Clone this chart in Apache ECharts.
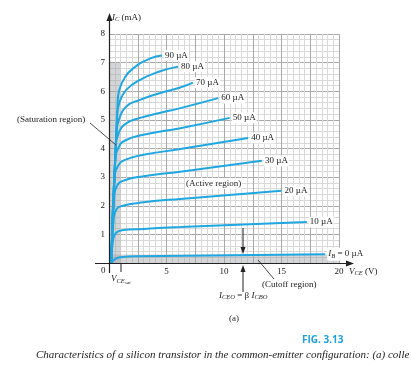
<!DOCTYPE html>
<html><head><meta charset="utf-8">
<script src="https://cdn.jsdelivr.net/npm/echarts@6/dist/echarts.min.js"></script>
<style>html,body{margin:0;padding:0;background:#fff}#c{width:411px;height:388px}</style>
</head><body><div id="c"></div>
<script>
// ---- data ----
const xTickLabels = [5, 10, 15, 20];
const yTickLabels = [1, 2, 3, 4, 5, 6, 7, 8];
const curveNames = ['IB = 0 µA', '10 µA', '20 µA', '30 µA', '40 µA', '50 µA', '60 µA', '70 µA', '80 µA', '90 µA'];
const ib0  = [[0.25,0],[0.5,0.13],[1,0.2],[2.5,0.24],[18.8,0.31]];
const ib10 = [[0.2,0],[0.35,0.8],[0.6,1.05],[1.2,1.15],[3,1.19],[6.2,1.26],[17.2,1.43]];
const ib20 = [[0.2,0],[0.4,1.5],[0.65,1.88],[1.2,2.0],[3,2.12],[6.2,2.24],[15,2.52]];
const ib30 = [[0.2,0],[0.45,2.3],[0.7,2.7],[1.3,2.88],[3,3.03],[6.2,3.19],[13.3,3.57]];
const ib40 = [[0.2,0],[0.5,3.0],[0.8,3.4],[1.4,3.6],[3,3.78],[6.2,3.98],[12.1,4.37]];
const ib50 = [[0.2,0],[0.55,3.6],[0.85,4.05],[1.4,4.28],[3,4.48],[6.2,4.71],[10.5,5.07]];
const ib60 = [[0.2,0],[0.6,4.1],[0.85,4.55],[1.5,4.88],[2.7,5.07],[4.4,5.24],[6.2,5.41],[9.5,5.76]];
const ib70 = [[0.2,0],[0.65,4.6],[0.9,5.05],[1.5,5.47],[2.7,5.7],[4.4,5.93],[6.2,6.13],[7.3,6.3]];
const ib80 = [[0.2,0],[0.7,5.1],[0.9,5.6],[1.5,6.05],[2.7,6.4],[4.4,6.69],[6.0,6.86]];
const ib90 = [[0.2,0],[0.75,5.6],[0.9,6.05],[1.4,6.5],[2.1,6.8],[3.6,7.15],[4.6,7.25]];
const curves = [ib0, ib10, ib20, ib30, ib40, ib50, ib60, ib70, ib80, ib90];
const saturationBox = [[0, 0], [1.0, 7]];
const cutoffBand = [[0, 0], [20, 0.3]];

// ---- chart ----
const chart = echarts.init(document.getElementById('c'), null, {renderer: 'canvas'});
const BLUE = '#1ea7e1';
const SERIF = 'Liberation Serif';

const series = [{
  type: 'line', data: [], z: 1, silent: true,
  markArea: {
    silent: true,
    itemStyle: {color: 'rgba(160,162,166,0.45)'},
    data: [
      [{coord: saturationBox[0]}, {coord: saturationBox[1]}],
      [{coord: cutoffBand[0]}, {coord: cutoffBand[1]}]
    ]
  }
}];
curves.forEach((d, i) => {
  series.push({
    type: 'line', data: d, z: 3, showSymbol: false, smooth: 0.5,
    lineStyle: {color: BLUE, width: 2}, itemStyle: {color: BLUE},
    endLabel: {
      show: true, distance: 2,
      formatter: i === 0 ? '{i|I}{s|B}{n| = 0 µA}' : curveNames[i],
      fontFamily: SERIF, fontSize: 9, color: '#222', backgroundColor: '#fff', padding: [1, 1],
      rich: {
        i: {fontFamily: SERIF, fontStyle: 'italic', fontSize: 9, color: '#222'},
        s: {fontFamily: SERIF, fontStyle: 'italic', fontSize: 6.5, color: '#222', padding: [4, 0, 0, 0]},
        n: {fontFamily: SERIF, fontSize: 9, color: '#222'}
      }
    }
  });
});

const txt = (x, y, text, extra) => Object.assign({
  type: 'text', x, y, z: 50,
  style: Object.assign({text, fontFamily: SERIF, fontSize: 9, fill: '#222'}, extra || {})
});
const ln = (x1, y1, x2, y2, w) => ({type: 'line', z: 50, shape: {x1, y1, x2, y2}, style: {stroke: '#222', lineWidth: w || 1}});
const arrowHead = (pts) => ({type: 'polygon', z: 50, shape: {points: pts}, style: {fill: '#222'}});
const subRich = {
  i: {fontFamily: SERIF, fontStyle: 'italic', fontSize: 9, fill: '#222'},
  s: {fontFamily: SERIF, fontStyle: 'italic', fontSize: 6.5, fill: '#222', padding: [4, 0, 0, 0]},
  ss: {fontFamily: SERIF, fontStyle: 'italic', fontSize: 5, fill: '#222', padding: [7, 0, 0, 0]},
  n: {fontFamily: SERIF, fontSize: 9, fill: '#222'}
};

chart.setOption({
  animation: false,
  backgroundColor: '#fff',
  grid: {left: 109, top: 34, width: 230, height: 229},
  xAxis: {
    type: 'value', min: 0, max: 20, interval: 2.5,
    axisLine: {show: false}, axisTick: {show: false},
    axisLabel: {
      margin: 4, fontFamily: SERIF, fontSize: 9, color: '#222',
      formatter: v => xTickLabels.indexOf(v) >= 0 ? String(v) : ''
    },
    splitLine: {show: true, lineStyle: {color: '#a9a9a9', width: 1}},
    minorTick: {show: false, splitNumber: 5},
    minorSplitLine: {show: true, lineStyle: {color: '#d9d9d9', width: 1}}
  },
  yAxis: {
    type: 'value', min: 0, max: 8, interval: 1,
    axisLine: {show: false}, axisTick: {show: false},
    axisLabel: {
      margin: 4, fontFamily: SERIF, fontSize: 9, color: '#222',
      formatter: v => yTickLabels.indexOf(v) >= 0 ? String(v) : ''
    },
    splitLine: {show: true, lineStyle: {color: '#a9a9a9', width: 1}},
    minorTick: {show: false, splitNumber: 5},
    minorSplitLine: {show: true, lineStyle: {color: '#d9d9d9', width: 1}}
  },
  series: series,
  graphic: [
    // axes
    ln(95, 263.5, 347, 263.5, 1.2), arrowHead([[354, 263.5], [346, 260.5], [346, 266.5]]),
    ln(109.5, 273, 109.5, 20, 1.2), arrowHead([[109.5, 13], [106.5, 21], [112.5, 21]]),
    ln(121, 263, 121, 272, 1),
    txt(101, 266, '0'),
    // axis titles
    txt(112, 12, '{i|I}{s|C}{n| (mA)}', {rich: subRich}),
    txt(349, 266, '{i|V}{s|CE}{n| (V)}', {rich: subRich}),
    txt(111, 273, '{i|V}{s|CE}{ss|sat}', {rich: subRich}),
    // saturation
    txt(17, 115, '(Saturation region)'),
    ln(90, 123, 116, 145, 0.8),
    // active
    txt(185, 178, '(Active region)', {backgroundColor: '#fff', padding: [1, 1]}),
    // cutoff
    txt(262, 280, '(Cutoff region)'),
    ln(258, 260, 274, 279, 0.8),
    // ICEO arrows
    ln(243, 228, 243, 248, 1), arrowHead([[243, 254], [240.5, 247], [245.5, 247]]),
    ln(243, 272, 243, 292, 1), arrowHead([[243, 265], [240.5, 272], [245.5, 272]]),
    txt(219, 290, '{i|I}{s|CEO}{n| = β }{i|I}{s|CBO}', {rich: subRich}),
    // captions
    txt(229, 314, '(a)'),
    txt(302, 335, 'FIG. 3.13', {fontFamily: 'Open Sans', fontWeight: 'bold', fontSize: 10, fill: '#1ea0de'}),
    txt(36, 350, 'Characteristics of a silicon transistor in the common-emitter configuration: (a) colle', {fontStyle: 'italic', fontSize: 11})
  ]
});
</script>
</body></html>
